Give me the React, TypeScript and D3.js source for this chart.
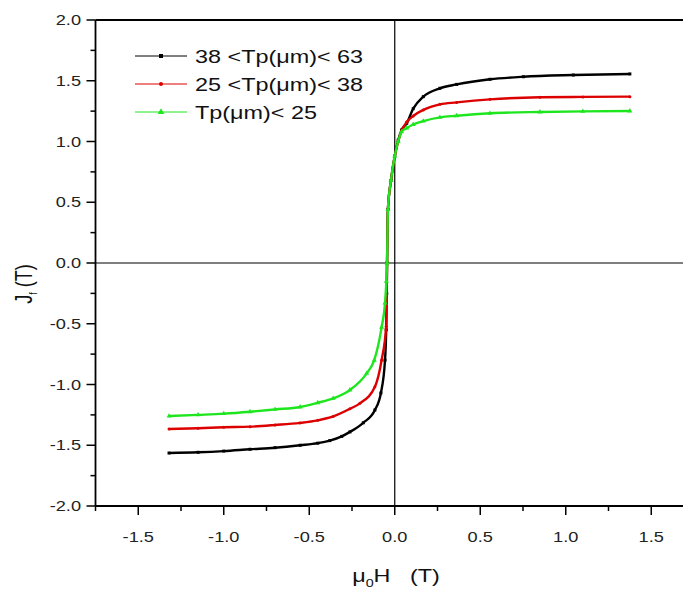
import React from "react";
import * as d3 from "d3";

// ---- data ----
const seriesNames = ["38 <Tp(\u03bcm)< 63", "25 <Tp(\u03bcm)< 38", "Tp(\u03bcm)< 25"];
const seriesColors = ["#000000", "#dd0000", "#1ee61e"];

const hBlack = [-1.32, -1.15, -1.0, -0.846, -0.7, -0.553, -0.45, -0.38, -0.31, -0.262, -0.184, -0.116, -0.081, -0.057, -0.05, -0.047, -0.045, -0.04, -0.022, 0, 0.02, 0.04, 0.07, 0.108, 0.167, 0.264, 0.362, 0.557, 0.752, 1.044, 1.375];
const jBlack = [-1.564, -1.558, -1.548, -1.533, -1.52, -1.5, -1.483, -1.462, -1.427, -1.39, -1.315, -1.21, -1.07, -0.8, -0.55, -0.25, 0.0, 0.44, 0.68, 0.88, 1.01, 1.095, 1.15, 1.27, 1.369, 1.438, 1.47, 1.512, 1.533, 1.547, 1.556];

const hRed = [-1.32, -1.15, -1.0, -0.846, -0.7, -0.555, -0.45, -0.36, -0.262, -0.204, -0.116, -0.077, -0.05, -0.047, -0.045, -0.04, -0.022, 0, 0.02, 0.04, 0.07, 0.108, 0.167, 0.264, 0.362, 0.557, 0.849, 1.1, 1.375];
const jRed = [-1.366, -1.36, -1.352, -1.347, -1.333, -1.316, -1.295, -1.263, -1.2, -1.155, -1.018, -0.8, -0.52, -0.26, 0.0, 0.44, 0.68, 0.88, 1.0, 1.09, 1.16, 1.21, 1.26, 1.306, 1.322, 1.347, 1.364, 1.367, 1.369];

const hGreen = [-1.32, -1.15, -1.0, -0.846, -0.7, -0.553, -0.45, -0.36, -0.262, -0.164, -0.12, -0.077, -0.057, -0.049, -0.045, -0.04, -0.022, 0, 0.02, 0.04, 0.07, 0.108, 0.167, 0.264, 0.362, 0.557, 0.849, 1.1, 1.375];
const jGreen = [-1.26, -1.25, -1.24, -1.224, -1.205, -1.185, -1.15, -1.114, -1.045, -0.908, -0.8, -0.53, -0.33, -0.15, 0.0, 0.44, 0.68, 0.88, 1.0, 1.08, 1.11, 1.14, 1.168, 1.199, 1.212, 1.232, 1.243, 1.248, 1.251];

const xMajorTicks = [-1.5, -1.0, -0.5, 0.0, 0.5, 1.0, 1.5];
const xMinorTicks = [-1.75, -1.25, -0.75, -0.25, 0.25, 0.75, 1.25];
const yMajorTicks = [-2.0, -1.5, -1.0, -0.5, 0.0, 0.5, 1.0, 1.5, 2.0];
const yMinorTicks = [-1.75, -1.25, -0.75, -0.25, 0.25, 0.75, 1.25, 1.75];

const W = 683;
const H = 590;
const FONT = "'Liberation Sans', Arial, Helvetica, sans-serif";
const SX = 1.3; // horizontal stretch of text in the reference

const x = d3.scaleLinear().domain([-1.75, 1.75]).range([95.5, 694]);
const y = d3.scaleLinear().domain([-2, 2]).range([506, 20]);

const series = [
  { h: hBlack, j: jBlack },
  { h: hRed, j: jRed },
  { h: hGreen, j: jGreen },
];

function Marker({ kind, cx, cy, color, s }: { kind: number; cx: number; cy: number; color: string; s: number }) {
  if (kind === 0) return <rect x={cx - s / 2} y={cy - s / 2} width={s} height={s} fill={color} />;
  if (kind === 1) return <circle cx={cx} cy={cy} r={s / 2} fill={color} />;
  const p = d3.symbol(d3.symbolTriangle, s * s * 1.2)() || "";
  return <path d={p} transform={`translate(${cx},${cy})`} fill={color} />;
}

export default function App() {
  const line = d3
    .line<[number, number]>()
    .x((d) => x(d[0]))
    .y((d) => y(d[1]))
    .curve(d3.curveMonotoneX);

  const legendRows = [56, 84, 112];

  return (
    <svg
      width={W}
      height={H}
      style={{ position: "absolute", left: 0, top: 0, background: "#fff" }}
      fontFamily={FONT}
    >
      <rect x={0} y={0} width={W} height={H} fill="#fff" />

      {/* zero lines */}
      <line x1={x(0)} x2={x(0)} y1={y(2)} y2={y(-2)} stroke="#000" strokeWidth={1.2} />
      <line x1={x(-1.75)} x2={x(1.75)} y1={y(0)} y2={y(0)} stroke="#000" strokeWidth={1.2} />

      {/* curves */}
      {series.map((s, i) => {
        const pts: [number, number][] = s.h.map((hv, k) => [hv, s.j[k]]);
        return (
          <g key={i}>
            <path d={line(pts) || ""} fill="none" stroke={seriesColors[i]} strokeWidth={2.4} strokeLinejoin="round" />
            {pts.map((p, k) => (
              <Marker key={k} kind={i} cx={x(p[0])} cy={y(p[1])} color={seriesColors[i]} s={3} />
            ))}
          </g>
        );
      })}

      {/* frame */}
      <line x1={x(-1.75)} x2={x(-1.75)} y1={y(2)} y2={y(-2)} stroke="#000" strokeWidth={1.8} />
      <line x1={x(-1.75)} x2={x(1.75)} y1={y(-2)} y2={y(-2)} stroke="#000" strokeWidth={1.8} />
      <line x1={x(-1.75)} x2={x(1.75)} y1={y(2)} y2={y(2)} stroke="#000" strokeWidth={1.8} />
      <line x1={x(1.75)} x2={x(1.75)} y1={y(2)} y2={y(-2)} stroke="#000" strokeWidth={1.8} />

      {/* y ticks */}
      {yMajorTicks.map((t) => (
        <g key={"ym" + t}>
          <line x1={x(-1.75) - 9} x2={x(-1.75)} y1={y(t)} y2={y(t)} stroke="#000" strokeWidth={1.5} />
          <text
            transform={`translate(81,${y(t) + 5}) scale(${SX},1)`}
            textAnchor="end"
            fontSize={14}
            fill="#222"
          >
            {t.toFixed(1)}
          </text>
        </g>
      ))}
      {yMinorTicks.map((t) => (
        <line key={"yn" + t} x1={x(-1.75) - 5} x2={x(-1.75)} y1={y(t)} y2={y(t)} stroke="#000" strokeWidth={1.5} />
      ))}

      {/* x ticks */}
      {xMajorTicks.map((t) => (
        <g key={"xm" + t}>
          <line x1={x(t)} x2={x(t)} y1={y(-2)} y2={y(-2) + 9} stroke="#000" strokeWidth={1.5} />
          <text
            transform={`translate(${x(t)},${y(-2) + 36}) scale(${SX},1)`}
            textAnchor="middle"
            fontSize={14}
            fill="#222"
          >
            {t.toFixed(1)}
          </text>
        </g>
      ))}
      {xMinorTicks.map((t) => (
        <line key={"xn" + t} x1={x(t)} x2={x(t)} y1={y(-2)} y2={y(-2) + 5} stroke="#000" strokeWidth={1.5} />
      ))}

      {/* axis titles */}
      <text
        transform={`translate(396,582) scale(${SX},1)`}
        textAnchor="middle"
        fontSize={18}
        fill="#111"
        style={{ whiteSpace: "pre" }}
      >
        {"\u03bc"}
        <tspan fontSize={11} dy={5}>0</tspan>
        <tspan dy={-5}>{"H   (T)"}</tspan>
      </text>
      <text
        transform={`translate(32,284) scale(${SX},1) rotate(-90)`}
        textAnchor="middle"
        fontSize={18}
        fill="#111"
        style={{ whiteSpace: "pre" }}
      >
        {"J"}
        <tspan fontSize={9} dy={4}>f</tspan>
        <tspan dy={-4}>{" (T)"}</tspan>
      </text>

      {/* legend */}
      {seriesNames.map((name, i) => (
        <g key={"lg" + i}>
          <line x1={135} x2={187} y1={legendRows[i]} y2={legendRows[i]} stroke={seriesColors[i]} strokeWidth={1} />
          <Marker kind={i} cx={161} cy={legendRows[i]} color={seriesColors[i]} s={4} />
          <text
            transform={`translate(195,${legendRows[i] + 6.5}) scale(${SX},1)`}
            fontSize={18}
            fill="#111"
          >
            {name}
          </text>
        </g>
      ))}
    </svg>
  );
}
